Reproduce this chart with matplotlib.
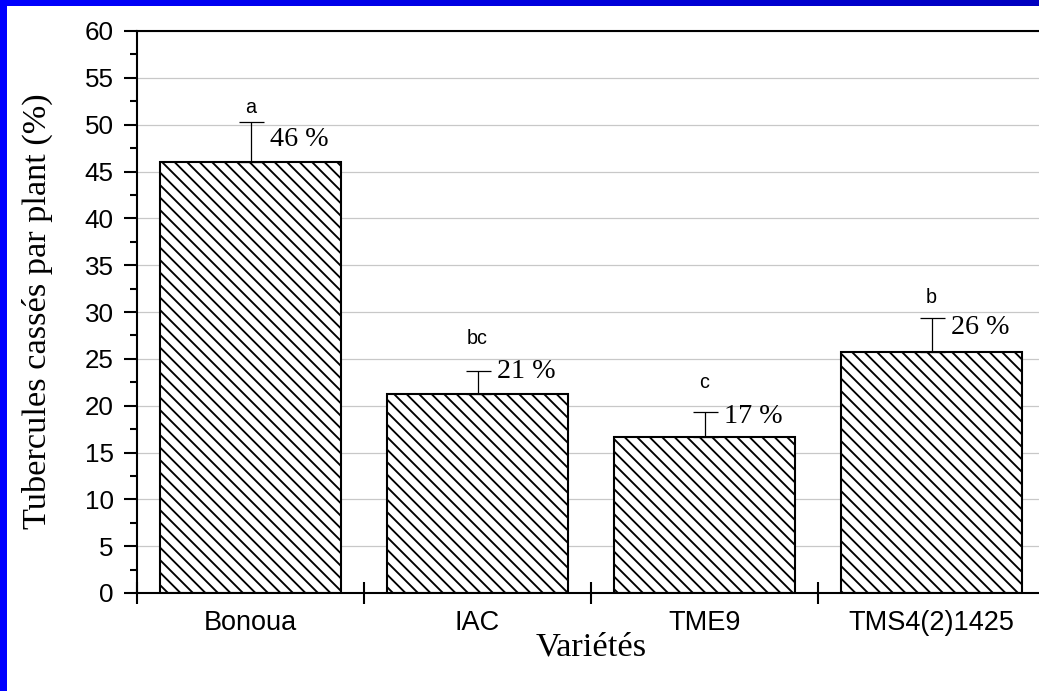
import numpy as np
import matplotlib
matplotlib.use("Agg")
import matplotlib.pyplot as plt
from matplotlib.ticker import MultipleLocator, FixedLocator, NullFormatter
from matplotlib.colors import LinearSegmentedColormap

# ---- data ----
categories = ["Bonoua", "IAC", "TME9", "TMS4(2)1425"]
values = [46.0, 21.2, 16.7, 25.7]
errors = [4.3, 2.5, 2.6, 3.7]
pct_labels = ["46 %", "21 %", "17 %", "26 %"]
pct_y = [48.4, 23.7, 18.8, 28.3]
letters = ["a", "bc", "c", "b"]
letter_y = [51.8, 27.2, 22.5, 31.5]
y_ticks = list(range(0, 61, 5))

DPI = 150
W, H = 1039, 691
plt.rcParams['hatch.linewidth'] = 0.9
fig = plt.figure(figsize=(W / DPI, H / DPI), dpi=DPI)
fig.patch.set_facecolor("white")

# axes placement (right edge runs just beyond the image)
left_px, right_px, top_px, bot_px = 137, 1045, 31, 593
ax = fig.add_axes([left_px / W, 1 - bot_px / H, (right_px - left_px) / W, (bot_px - top_px) / H])

x = np.arange(len(categories))
ax.set_axisbelow(True)
ax.yaxis.grid(True, color="#c8c8c8", linewidth=0.6)
ax.bar(x, values, width=0.8, facecolor="white", edgecolor="black",
       linewidth=1.0, hatch="\\\\\\\\", zorder=2)
ax.errorbar(x, values, yerr=[np.zeros(len(errors)), errors], fmt="none",
            ecolor="black", elinewidth=0.6, capsize=6, capthick=0.6, zorder=3)

for xi, t, yy in zip(x, pct_labels, pct_y):
    ax.text(xi + 0.085, yy, t, ha="left", va="center", fontsize=13.5,
            family="Liberation Serif", zorder=4)
for xi, t, yy in zip(x, letters, letter_y):
    ax.text(xi, yy, t, ha="center", va="center", fontsize=9.5,
            family="Liberation Sans", zorder=4)

ax.set_xlim(-0.5, len(categories) - 0.5)
ax.set_ylim(0, 60)

# y axis ticks
ax.yaxis.set_major_locator(FixedLocator(y_ticks))
ax.yaxis.set_minor_locator(MultipleLocator(2.5))
ax.tick_params(axis="y", which="major", direction="out", length=6.2, width=1.0,
               pad=5, labelsize=12.5, right=False)
ax.tick_params(axis="y", which="minor", direction="out", length=3.6, width=1.0, right=False)
for lab in ax.get_yticklabels():
    lab.set_family("Liberation Sans")

# x axis: ticks at boundaries, labels at centres
ax.xaxis.set_major_locator(FixedLocator(np.arange(-0.5, len(categories), 1.0)))
ax.xaxis.set_major_formatter(NullFormatter())
ax.xaxis.set_minor_locator(FixedLocator(x))
ax.set_xticklabels(categories, minor=True, family="Liberation Sans")
ax.tick_params(axis="x", which="major", direction="inout", length=10.5, width=1.0, top=False)
ax.tick_params(axis="x", which="minor", length=0, pad=8, labelsize=13, top=False)

for s in ax.spines.values():
    s.set_linewidth(1.0)

ax.set_ylabel("Tubercules cassés par plant (%)", family="Liberation Serif", fontsize=16.5)
ax.yaxis.label.set_va("center")
ax.yaxis.set_label_coords((37 - left_px) / (right_px - left_px), (bot_px - 311) / (bot_px - top_px))
ax.set_xlabel("Variétés", family="Liberation Serif", fontsize=16.5)
ax.xaxis.label.set_va("center")
ax.xaxis.set_label_coords(0.5, (bot_px - 647) / (bot_px - top_px))

# blue frame strips (left and top)
lax = fig.add_axes([0, 0, 7 / W, 1])
lax.set_facecolor("#0000ff")
lax.set_xticks([]); lax.set_yticks([])
for s in lax.spines.values():
    s.set_visible(False)
tax = fig.add_axes([0, 1 - 6 / H, 1, 6 / H])
grad = np.linspace(0, 1, 256).reshape(1, -1)
cm = LinearSegmentedColormap.from_list("bl", ["#0000ff", "#0000c0"])
tax.imshow(grad, aspect="auto", cmap=cm, extent=[0, 1, 0, 1])
tax.set_xticks([]); tax.set_yticks([])
for s in tax.spines.values():
    s.set_visible(False)

fig.savefig("out.png", dpi=DPI)
